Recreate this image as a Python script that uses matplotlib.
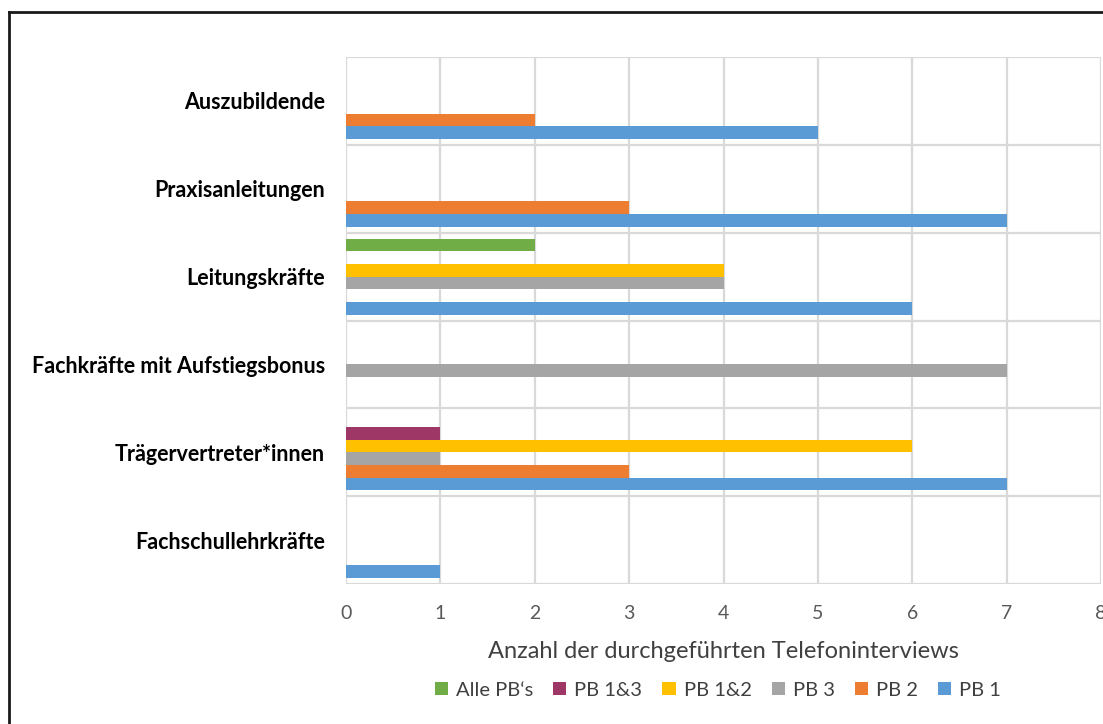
import numpy as np
import matplotlib.pyplot as plt
from matplotlib.lines import Line2D
from matplotlib.patches import Patch

plt.rcParams['font.family'] = ['Lato', 'DejaVu Sans']

# categories from bottom to top
groups = ['Fachschullehrkräfte', 'Trägervertreter*innen', 'Fachkräfte mit Aufstiegsbonus',
          'Leitungskräfte', 'Praxisanleitungen', 'Auszubildende']

# series drawn from the bottom of each band upwards
series = ['PB 1', 'PB 2', 'PB 3', 'PB 1&2', 'PB 1&3', 'Alle PB‘s']
pb1 = [1, 7, 0, 6, 7, 5]
pb2 = [0, 3, 0, 0, 3, 2]
pb3 = [0, 1, 7, 4, 0, 0]
pb12 = [0, 6, 0, 4, 0, 0]
pb13 = [0, 1, 0, 0, 0, 0]
alle = [0, 0, 0, 2, 0, 0]
values = [pb1, pb2, pb3, pb12, pb13, alle]
colors = ['#5B9BD5', '#ED7D31', '#A5A5A5', '#FFC000', '#9E3766', '#70AD47']

W, H = 1103, 724
fig = plt.figure(figsize=(W / 100, H / 100), dpi=100)
ax = fig.add_axes([346 / W, 1 - 584 / H, (1101 - 346) / W, (584 - 57) / H])

y = np.arange(len(groups))
slot = 0.144
for k, (name, vals, c) in enumerate(zip(series, values, colors)):
    ax.barh(y + (k - 2.5) * slot, vals, height=slot, color=c, label=name, zorder=3)

ax.set_xlim(0, 8)
ax.set_ylim(-0.5, len(groups) - 0.5)
ax.set_xticks(range(9))
ax.set_yticks(y)
ax.set_yticklabels(groups, fontsize=15.5, fontweight='bold', color='#000000')
ax.set_yticks(np.arange(-0.5, len(groups), 1), minor=True)
ax.tick_params(axis='both', which='both', length=0)
ax.tick_params(axis='x', labelsize=14, labelcolor='#595959', pad=15)
ax.tick_params(axis='y', pad=15)
ax.grid(axis='x', which='major', color='#D9D9D9', linewidth=1.6, zorder=0)
ax.grid(axis='y', which='minor', color='#D9D9D9', linewidth=1.6, zorder=0)
for s in ax.spines.values():
    s.set_visible(False)

fig.text(723 / W, 1 - 651 / H, 'Anzahl der durchgeführten Telefoninterviews',
         ha='center', va='center', fontsize=17, color='#404040')

handles = [Patch(facecolor=c, label=n) for n, c in zip(series, colors)][::-1]
fig.legend(handles=handles, loc='center', bbox_to_anchor=(718 / W, 1 - 690 / H), ncol=6,
           frameon=False, fontsize=14.5, labelcolor='#404040', handlelength=0.65,
           handleheight=0.65, handletextpad=0.4, columnspacing=1.0)

# outer frame, only top and left edges
fig.add_artist(Line2D([9 / W, 1], [1 - 12 / H, 1 - 12 / H], color='#1a1a1a', linewidth=2))
fig.add_artist(Line2D([9 / W, 9 / W], [0, 1 - 12 / H], color='#1a1a1a', linewidth=2))

fig.savefig('out.png', dpi=100)
